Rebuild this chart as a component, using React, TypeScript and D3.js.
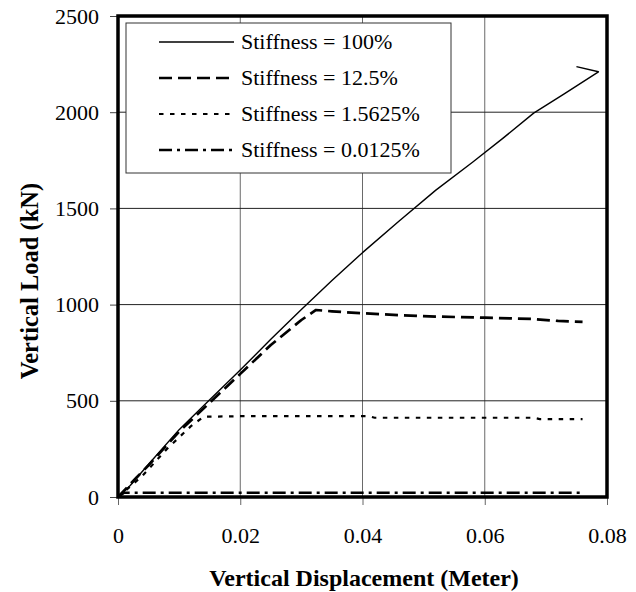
import React, { useEffect, useRef } from 'react';
import * as d3 from 'd3';

// series: displacement (m) / vertical load (kN)
const disp100 = [0, 0.002, 0.005, 0.01, 0.015, 0.02, 0.025, 0.03, 0.035, 0.04, 0.046, 0.052, 0.058, 0.063, 0.068, 0.073, 0.0786, 0.075];
const load100 = [0, 60, 170, 350, 505, 660, 820, 975, 1125, 1270, 1435, 1595, 1740, 1865, 1995, 2095, 2210, 2237];

const disp125 = [0, 0.003, 0.005, 0.01, 0.015, 0.02, 0.025, 0.03, 0.0324, 0.035, 0.04, 0.046, 0.052, 0.06, 0.068, 0.072, 0.076];
const load125 = [0, 100, 165, 340, 490, 640, 790, 920, 972, 965, 955, 945, 938, 932, 925, 915, 910];

const disp15625 = [0, 0.004, 0.008, 0.012, 0.014, 0.02, 0.03, 0.041, 0.042, 0.06, 0.068, 0.069, 0.076];
const load15625 = [0, 110, 250, 370, 417, 420, 420, 420, 412, 412, 412, 405, 405];

const disp00125 = [0, 0.001, 0.02, 0.04, 0.06, 0.076];
const load00125 = [0, 22, 22, 22, 22, 22];

const seriesNames = ['Stiffness = 100%', 'Stiffness = 12.5%', 'Stiffness = 1.5625%', 'Stiffness = 0.0125%'];
const xTicks = [0, 0.02, 0.04, 0.06, 0.08];
const xTickLabels = ['0', '0.02', '0.04', '0.06', '0.08'];
const yTicks = [0, 500, 1000, 1500, 2000, 2500];

const font = 'Liberation Serif';

const App = () => {
  const svgRef = useRef(null);

  useEffect(() => {
    const svg = d3.select(svgRef.current);
    svg.selectAll('*').remove();

    const x = d3.scaleLinear().domain([0, 0.08]).range([118, 607]);
    const y = d3.scaleLinear().domain([0, 2500]).range([497, 16]);

    // gridlines
    svg.append('g')
      .selectAll('line')
      .data(xTicks.slice(1, -1))
      .enter()
      .append('line')
      .attr('x1', (d) => x(d)).attr('x2', (d) => x(d))
      .attr('y1', y(0)).attr('y2', y(2500))
      .attr('stroke', '#6a6a6a').attr('stroke-width', 1);

    svg.append('g')
      .selectAll('line')
      .data(yTicks.slice(1, -1))
      .enter()
      .append('line')
      .attr('x1', x(0)).attr('x2', x(0.08))
      .attr('y1', (d) => y(d)).attr('y2', (d) => y(d))
      .attr('stroke', '#222').attr('stroke-width', 1);

    // axes
    const xAxis = svg.append('g')
      .attr('transform', `translate(0, ${y(0)})`)
      .call(d3.axisBottom(x).tickValues(xTicks).tickSize(8).tickPadding(22)
        .tickFormat((d, i) => xTickLabels[i]))
      .attr('font-family', font).attr('font-size', 22);
    xAxis.select('.domain').remove();
    xAxis.selectAll('line').attr('stroke', '#666');
    xAxis.selectAll('text').attr('fill', '#000');

    const yAxis = svg.append('g')
      .attr('transform', `translate(${x(0)}, 0)`)
      .call(d3.axisLeft(y).tickValues(yTicks).tickSize(8).tickPadding(11).tickFormat(d3.format('d')))
      .attr('font-family', font).attr('font-size', 22);
    yAxis.select('.domain').remove();
    yAxis.selectAll('line').attr('stroke', '#444');
    yAxis.selectAll('text').attr('fill', '#000');

    // frame
    svg.append('rect')
      .attr('x', x(0)).attr('y', y(2500))
      .attr('width', x(0.08) - x(0)).attr('height', y(0) - y(2500))
      .attr('fill', 'none').attr('stroke', '#000').attr('stroke-width', 3.5);

    const styles = [
      { dash: null, w: 1.4 },
      { dash: '13,6', w: 2.7 },
      { dash: '4.5,6.5', w: 2.2 },
      { dash: '13,5,3,5', w: 2.6 },
    ];
    const series = [
      [disp100, load100],
      [disp125, load125],
      [disp15625, load15625],
      [disp00125, load00125],
    ];

    const line = d3.line().x((d) => x(d[0])).y((d) => y(d[1]));

    series.forEach(([xs, ys], i) => {
      const pts = xs.map((v, j) => [v, ys[j]]);
      svg.append('path')
        .datum(pts)
        .attr('d', line)
        .attr('fill', 'none')
        .attr('stroke', '#000')
        .attr('stroke-width', styles[i].w)
        .attr('stroke-linejoin', 'round')
        .attr('stroke-dasharray', styles[i].dash);
    });

    // legend
    const lg = svg.append('g');
    lg.append('rect')
      .attr('x', 126).attr('y', 23).attr('width', 325).attr('height', 150)
      .attr('fill', '#fff').attr('stroke', '#333').attr('stroke-width', 1);

    seriesNames.forEach((name, i) => {
      const ly = 42 + i * 36;
      lg.append('line')
        .attr('x1', 159).attr('x2', 234).attr('y1', ly).attr('y2', ly)
        .attr('stroke', '#000')
        .attr('stroke-width', styles[i].w)
        .attr('stroke-dasharray', styles[i].dash);
      lg.append('text')
        .text(name)
        .attr('x', 241).attr('y', ly + 7)
        .attr('font-family', font).attr('font-size', 22);
    });

    // axis titles
    svg.append('text')
      .text('Vertical Displacement (Meter)')
      .attr('text-anchor', 'middle')
      .attr('x', 364).attr('y', 586)
      .attr('font-family', font).attr('font-size', 24).attr('font-weight', 'bold');

    svg.append('text')
      .text('Vertical Load (kN)')
      .attr('text-anchor', 'middle')
      .attr('transform', 'translate(38, 281) rotate(-90)')
      .attr('font-family', font).attr('font-size', 24.5).attr('font-weight', 'bold');
  }, []);

  return (
    <svg ref={svgRef} width={636} height={592}
      style={{ position: 'absolute', left: 0, top: 0, background: '#fff' }} />
  );
};

export default App;
